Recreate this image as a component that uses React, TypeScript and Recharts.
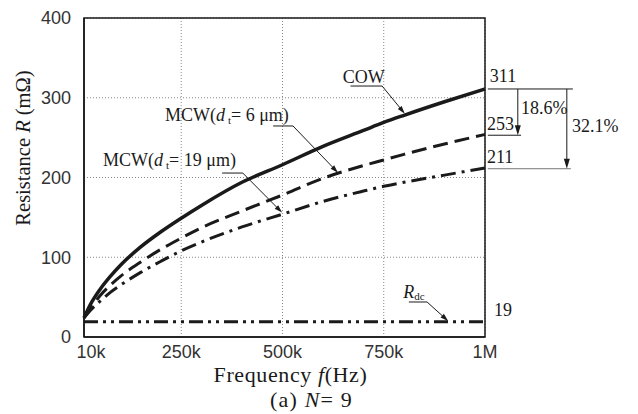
import {
  LineChart,
  Line,
  XAxis,
  YAxis,
  CartesianGrid,
  ReferenceLine,
  ReferenceDot,
  ReferenceArea,
  Label,
} from "recharts"

const INK = "#1a1a1a"
const SANS = "'Liberation Sans', Arial, sans-serif"
const SERIF = "'Liberation Serif', 'Times New Roman', serif"

// frequency (Hz) and resistance (mΩ)
const freqs = [10000, 25000, 50000, 75000, 100000, 150000, 200000, 250000, 300000, 400000, 500000, 600000, 700000, 750000, 800000, 900000, 1000000]
const cow = [24, 40, 60, 76, 90, 113, 132, 149, 165, 194, 216, 239, 259, 269, 278, 295, 311]
const mcw6 = [24, 35, 52, 65, 76, 94, 110, 124, 137, 158, 178, 199, 215, 222, 229, 242, 254]
const mcw19 = [24, 33, 45, 56, 65, 81, 95, 108, 119, 138, 154, 170, 183, 189, 194, 203, 212]
const rdc = [19, 19, 19, 19, 19, 19, 19, 19, 19, 19, 19, 19, 19, 19, 19, 19, 19]

const xTicks = [10000, 250000, 500000, 750000, 1000000]
const xTickLabels = ["10k", "250k", "500k", "750k", "1M"]
const yTicks = [0, 100, 200, 300, 400]

const data = freqs.map((f, i) => ({ f, cow: cow[i], mcw6: mcw6[i], mcw19: mcw19[i], rdc: rdc[i] }))

function ArrowLine(props: any) {
  const { x1, y1, x2, y2, color = INK, width = 1, head = 8, half = 2.5, arrow = true } = props
  const dx = x2 - x1
  const dy = y2 - y1
  const len = Math.hypot(dx, dy) || 1
  const ux = dx / len
  const uy = dy / len
  const bx = x2 - ux * head
  const by = y2 - uy * head
  const pts = `${x2},${y2} ${bx - uy * half},${by + ux * half} ${bx + uy * half},${by - ux * half}`
  return (
    <g>
      <line x1={x1} y1={y1} x2={arrow ? bx + ux : x2} y2={arrow ? by + uy : y2} stroke={color} strokeWidth={width} />
      {arrow && <polygon points={pts} fill={color} />}
    </g>
  )
}

function seg(key: string, a: [number, number], b: [number, number], opts: any = {}) {
  return (
    <ReferenceLine
      key={key}
      segment={[{ x: a[0], y: a[1] }, { x: b[0], y: b[1] }]}
      ifOverflow="visible"
      shape={(p: any) => <ArrowLine {...p} {...opts} />}
    />
  )
}

function note(key: string, x: number, y: number, content: any, size = 18) {
  return (
    <ReferenceDot
      key={key}
      x={x}
      y={y}
      r={0}
      ifOverflow="visible"
      shape={(p: any) => (
        <text x={p.cx} y={p.cy} fontFamily={SERIF} style={{ fontFamily: SERIF }} fontSize={size} fill={INK}>
          {content}
        </text>
      )}
    />
  )
}

const mcwLabel = (d: string) => (
  <>
    MCW(<tspan fontStyle="italic">d</tspan>
    <tspan fontSize={11} dx={3} dy={3}>t</tspan>
    <tspan dy={-3}>= {d} μm)</tspan>
  </>
)

function XTick({ x, y, payload }: any) {
  const i = xTicks.indexOf(payload.value)
  return (
    <text x={x + (i === 0 ? 7 : 0)} y={y} dy="0.71em" textAnchor="middle" fontFamily={SANS} fontSize={18} fill="#333">
      {xTickLabels[i]}
    </text>
  )
}

export default function App() {
  return (
    <div style={{ position: "absolute", left: 0, top: 0, width: 638, height: 414, background: "#fff" }}>
      <LineChart width={638} height={414} data={data} margin={{ top: 18, right: 153, bottom: 47, left: 0 }}>
        <CartesianGrid stroke="#888" strokeDasharray="1 2" />
        <XAxis
          dataKey="f"
          type="number"
          domain={[10000, 1000000]}
          ticks={xTicks}
          tick={<XTick />}
          tickLine={false}
          axisLine={{ stroke: INK, strokeWidth: 1.5 }}
          height={30}
          interval={0}
        >
          <Label
            content={({ viewBox }: any) => (
              <g>
                <text
                  x={viewBox.x + viewBox.width / 2 + 6}
                  y={382}
                  textAnchor="middle"
                  fontFamily={SERIF}
                  style={{ fontFamily: SERIF, letterSpacing: 0.6 }}
                  fontSize={22}
                  fill={INK}
                >
                  Frequency <tspan fontStyle="italic">f</tspan>(Hz)
                </text>
                <text
                  x={viewBox.x + viewBox.width / 2 + 27}
                  y={407}
                  textAnchor="middle"
                  fontFamily={SERIF}
                  style={{ fontFamily: SERIF, letterSpacing: 1.2 }}
                  fontSize={22}
                  fill={INK}
                >
                  (a) <tspan fontStyle="italic">N</tspan>= 9
                </text>
              </g>
            )}
          />
        </XAxis>
        <YAxis
          type="number"
          domain={[0, 400]}
          ticks={yTicks}
          width={84}
          tickLine={false}
          tickMargin={7}
          axisLine={{ stroke: INK, strokeWidth: 1.5 }}
          tick={{ fontFamily: SANS, fontSize: 18, fill: "#333" }}
          interval={0}
        >
          <Label
            content={() => (
              <text
                x={23}
                y={148}
                transform="rotate(-90, 23, 148)"
                textAnchor="middle"
                dominantBaseline="central"
                fontFamily={SERIF}
                style={{ fontFamily: SERIF }}
                fontSize={20.5}
                fill={INK}
              >
                Resistance <tspan fontStyle="italic">R</tspan> (mΩ)
              </text>
            )}
          />
        </YAxis>
        <ReferenceArea x1={10000} x2={1000000} y1={0} y2={400} fill="none" stroke={INK} strokeWidth={1.5} />

        <Line dataKey="rdc" stroke={INK} strokeWidth={3} strokeDasharray="14 5 3 5 3 5" dot={false} isAnimationActive={false} />
        <Line dataKey="mcw19" type="monotone" stroke={INK} strokeWidth={3} strokeDasharray="15 6 3 6" dot={false} isAnimationActive={false} />
        <Line dataKey="mcw6" type="monotone" stroke={INK} strokeWidth={3} strokeDasharray="15 7" dot={false} isAnimationActive={false} />
        <Line dataKey="cow" type="monotone" stroke={INK} strokeWidth={3.5} dot={false} isAnimationActive={false} />

        {/* leaders */}
        {seg("cow-u", [668000, 314.7], [746000, 314.7], { arrow: false })}
        {seg("cow-a", [746000, 314.7], [802000, 280])}
        {seg("m6-u", [477000, 264.6], [526000, 264.6], { arrow: false })}
        {seg("m6-a", [526000, 264.6], [637000, 206])}
        {seg("m19-u", [351000, 205.6], [402000, 205.6], { arrow: false })}
        {seg("m19-a", [402000, 205.6], [499000, 156])}
        {seg("rdc-u", [812000, 43.9], [857000, 43.9], { arrow: false })}
        {seg("rdc-a", [857000, 43.9], [909000, 20])}

        {/* difference brackets */}
        {seg("l311", [1007000, 311], [1217000, 311], { arrow: false })}
        {seg("l253", [1007000, 253], [1089000, 253], { arrow: false })}
        {seg("l211", [1007000, 211], [1212000, 211], { arrow: false, color: "#777" })}
        {seg("a186", [1081000, 311], [1081000, 253], { head: 10, half: 3 })}
        {seg("a321", [1202000, 311], [1202000, 211], { head: 10, half: 3 })}

        {note("t-cow", 649000, 318.5, "COW")}
        {note("t-m6", 210000, 270.8, mcwLabel("6"))}
        {note("t-m19", 57000, 214.4, mcwLabel("19"))}
        {note(
          "t-rdc",
          798000,
          48.9,
          <>
            <tspan fontStyle="italic">R</tspan>
            <tspan fontSize={11} dy={2}>dc</tspan>
          </>
        )}
        {note("t311", 1012000, 319.7, "311")}
        {note("t253", 1005000, 259.6, "253")}
        {note("t211", 1005000, 218.2, "211")}
        {note("t19", 1022000, 26.3, "19")}
        {note("t186", 1089000, 279.6, "18.6%")}
        {note("t321", 1215000, 257, "32.1%")}
      </LineChart>
    </div>
  )
}
